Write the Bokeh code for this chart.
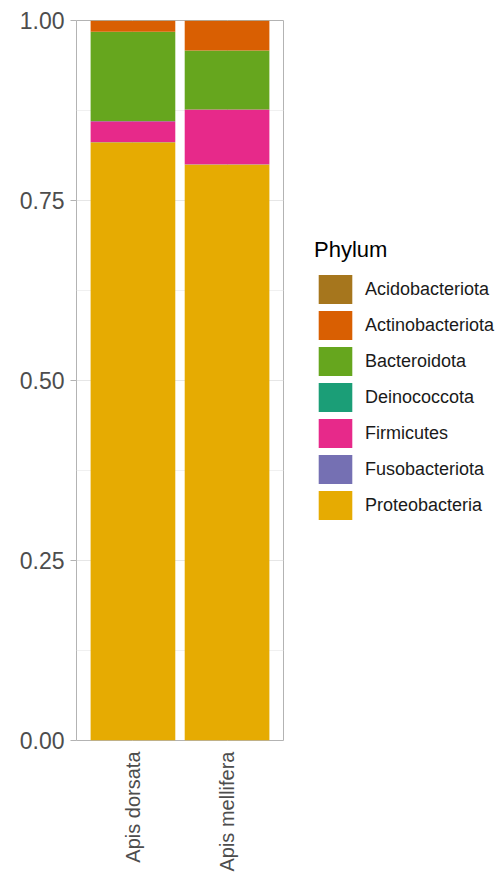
from bokeh.plotting import figure
from bokeh.layouts import row
from bokeh.models import (FactorRange, Range1d, FixedTicker, PrintfTickFormatter,
                          Legend, LegendItem)
from bokeh.embed import file_html
from bokeh.resources import INLINE
from math import pi

species = ["Apis dorsata", "Apis mellifera"]
# legend order (top of stack first)
phyla = ["Acidobacteriota", "Actinobacteriota", "Bacteroidota", "Deinococcota",
         "Firmicutes", "Fusobacteriota", "Proteobacteria"]
colors = ["#A6761D", "#D95F02", "#66A61E", "#1B9E77", "#E7298A", "#7570B3", "#E6AB02"]

Acidobacteriota = [0.0003, 0.0003]
Actinobacteriota = [0.0152, 0.0412]
Bacteroidota = [0.124, 0.082]
Deinococcota = [0.0003, 0.0002]
Firmicutes = [0.029, 0.076]
Fusobacteriota = [0.0002, 0.0003]
Proteobacteria = [0.831, 0.800]

y_ticks = [0.0, 0.25, 0.5, 0.75, 1.0]
y_minor = [0.125, 0.375, 0.625, 0.875]

data = dict(species=species, Acidobacteriota=Acidobacteriota,
            Actinobacteriota=Actinobacteriota, Bacteroidota=Bacteroidota,
            Deinococcota=Deinococcota, Firmicutes=Firmicutes,
            Fusobacteriota=Fusobacteriota, Proteobacteria=Proteobacteria)

stack_order = phyla[::-1]
stack_colors = colors[::-1]

# ---- main chart ----
p = figure(width=284, height=874, output_backend="svg", toolbar_location=None,
           x_range=FactorRange(*species, range_padding=0.1),
           y_range=Range1d(0, 1),
           min_border_left=76, min_border_right=1, min_border_top=20,
           min_border_bottom=134)

p.vbar_stack(stack_order, x="species", width=0.9, color=stack_colors,
             line_width=0, source=data)

p.outline_line_color = "#b3b3b3"
p.outline_line_width = 1
p.background_fill_color = "white"
p.border_fill_color = "white"

p.yaxis.ticker = FixedTicker(ticks=y_ticks, minor_ticks=y_minor)
p.yaxis.formatter = PrintfTickFormatter(format="%.2f")
p.ygrid.ticker = FixedTicker(ticks=y_ticks, minor_ticks=y_minor)
p.ygrid.grid_line_color = "#e6e6e6"
p.ygrid.minor_grid_line_color = "#f0f0f0"
p.xgrid.grid_line_color = "#e6e6e6"

for ax in [p.xaxis[0], p.yaxis[0]]:
    ax.axis_line_color = None
    ax.major_tick_line_color = "#b3b3b3"
    ax.major_tick_out = 6
    ax.major_tick_in = 0
    ax.minor_tick_line_color = None
    ax.major_label_text_font = "Liberation Sans"
    ax.major_label_text_color = "#4d4d4d"

p.xaxis.major_tick_line_color = None
p.xaxis.major_tick_out = 0
p.yaxis.major_label_text_font_size = "23px"
p.yaxis.major_label_standoff = 6
p.xaxis.major_label_text_font_size = "20px"
p.xaxis.major_label_orientation = pi / 2
p.xaxis.major_label_standoff = 11

# ---- legend panel ----
lg = figure(width=212, height=874, output_backend="svg", toolbar_location=None,
            x_range=FactorRange(*species), y_range=Range1d(0, 1),
            x_axis_location=None, y_axis_location=None, min_border=0)
lg.outline_line_color = None
lg.grid.visible = False
lg_renderers = lg.vbar_stack(stack_order, x="species", width=0.9, color=stack_colors,
                             line_width=0, source=data)
for r in lg_renderers:
    r.visible = False

items = [LegendItem(label=name, renderers=[r])
         for name, r in zip(stack_order, lg_renderers)][::-1]
legend = Legend(items=items, location=(30, 217), title="Phylum",
                title_text_font="Liberation Sans", title_text_font_size="22px",
                title_text_font_style="normal", title_text_color="#000000",
                title_standoff=8,
                label_text_font="Liberation Sans", label_text_font_size="18px",
                label_text_color="#1a1a1a", label_standoff=9,
                glyph_width=42, glyph_height=36, spacing=0, padding=0, margin=0,
                border_line_color=None, background_fill_alpha=0)
lg.add_layout(legend, "center")

layout = row(p, lg, spacing=0)
open("out.html", "w").write(file_html(layout, INLINE))
